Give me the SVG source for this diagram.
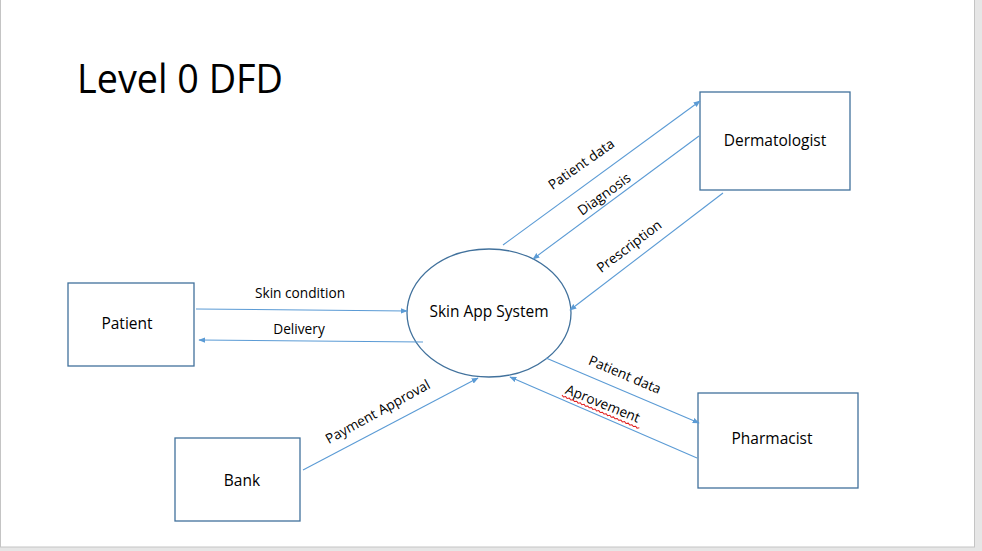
<svg xmlns="http://www.w3.org/2000/svg" width="982" height="551" viewBox="0 0 982 551">
<style>
.box{fill:#fff;stroke:#41719c;stroke-width:1.3}
.lbl{font-family:"Open Sans","Liberation Sans",sans-serif;font-size:15.5px;fill:#000;text-anchor:middle}
.flow{font-family:"Open Sans","Liberation Sans",sans-serif;font-size:13.7px;fill:#000;text-anchor:middle}
.con{stroke:#5b9bd5;stroke-width:1.1;fill:none;marker-end:url(#arr)}
</style>
<defs>
<marker id="arr" viewBox="0 0 10 10" refX="9" refY="5" markerWidth="7" markerHeight="7" markerUnits="userSpaceOnUse" orient="auto">
<path d="M0,1 L10,5 L0,9 z" fill="#5b9bd5"/>
</marker>
</defs>
<rect x="0" y="0" width="982" height="551" fill="#e6e6e6"/>
<rect x="0.5" y="-1" width="974" height="548" fill="#fff" stroke="#c4c4c4" stroke-width="1"/>
<text x="77" y="93" font-family="'Open Sans','Liberation Sans',sans-serif" font-size="41" textLength="206" lengthAdjust="spacingAndGlyphs" fill="#000">Level 0 DFD</text>

<g id="patient">
<rect class="box" x="68" y="283" width="126" height="83"/>
<text class="lbl" x="127" y="329">Patient</text>
</g>
<g id="skin-app-system">
<ellipse class="box" cx="489" cy="313" rx="82" ry="64"/>
<text class="lbl" x="489" y="317">Skin App System</text>
</g>
<g id="dermatologist">
<rect class="box" x="700" y="92" width="150" height="98"/>
<text class="lbl" x="775" y="146">Dermatologist</text>
</g>
<g id="pharmacist">
<rect class="box" x="698" y="393" width="160" height="95"/>
<text class="lbl" x="772" y="444">Pharmacist</text>
</g>
<g id="bank">
<rect class="box" x="175" y="438" width="125" height="83"/>
<text class="lbl" x="242" y="486">Bank</text>
</g>

<g id="connectors">
<line class="con" x1="503" y1="245" x2="700" y2="101"/>
<line class="con" x1="699" y1="136" x2="533" y2="259"/>
<line class="con" x1="723" y1="193" x2="570" y2="310"/>
<line class="con" x1="196" y1="309" x2="407" y2="311"/>
<line class="con" x1="423" y1="342" x2="199" y2="340"/>
<line class="con" x1="303" y1="470" x2="478" y2="378"/>
<line class="con" x1="546" y1="358" x2="699" y2="423"/>
<line class="con" x1="697" y1="458" x2="510" y2="377"/>
<text class="flow" x="300" y="298">Skin condition</text>
<text class="flow" x="299" y="334">Delivery</text>
<text class="flow" transform="translate(584,168) rotate(-35)">Patient data</text>
<text class="flow" transform="translate(607,198) rotate(-36)">Diagnosis</text>
<text class="flow" transform="translate(632,250) rotate(-37)">Prescription</text>
<text class="flow" transform="translate(380,416) rotate(-29)">Payment Approval</text>
<text class="flow" transform="translate(623,379) rotate(23)">Patient data</text>
<text class="flow" transform="translate(601,408) rotate(22)">Aprovement</text>
<path d="M0,0 l2,1.2 l2,-1.2 l2,1.2 l2,-1.2 l2,1.2 l2,-1.2 l2,1.2 l2,-1.2 l2,1.2 l2,-1.2 l2,1.2 l2,-1.2 l2,1.2 l2,-1.2 l2,1.2 l2,-1.2 l2,1.2 l2,-1.2 l2,1.2 l2,-1.2 l2,1.2 l2,-1.2 l2,1.2 l2,-1.2 l2,1.2 l2,-1.2 l2,1.2 l2,-1.2 l2,1.2 l2,-1.2 l2,1.2 l2,-1.2 l2,1.2 l2,-1.2 l2,1.2 l2,-1.2 l2,1.2 l2,-1.2 l2,1.2 l2,-1.2 l2,1.2 l2,-1.2" fill="none" stroke="#e02020" stroke-width="1" transform="translate(562,395) rotate(23)"/>
</g>
</svg>
